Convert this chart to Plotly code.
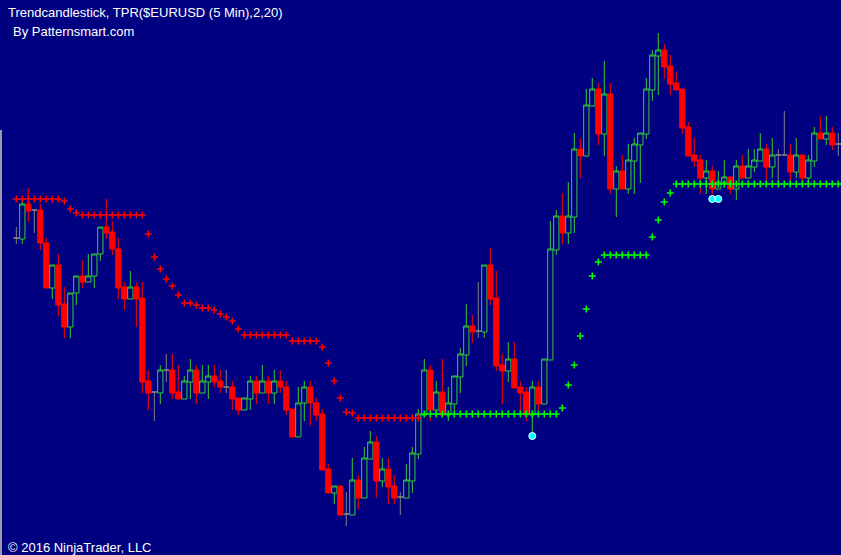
import plotly.graph_objects as go

# ---- data (EURUSD, 5 min bars) ----
bar_index = list(range(138))

open_ = [1.12762, 1.12761, 1.12796, 1.12790, 1.12790, 1.12757, 1.12712, 1.12735, 1.12696, 1.12673,
         1.12707, 1.12724, 1.12718, 1.12724, 1.12746, 1.12773, 1.12768, 1.12751, 1.12713, 1.12701,
         1.12713, 1.12702, 1.12619, 1.12608, 1.12607, 1.12630, 1.12630, 1.12608, 1.12601, 1.12618,
         1.12630, 1.12607, 1.12618, 1.12624, 1.12619, 1.12613, 1.12613, 1.12602, 1.12590, 1.12601,
         1.12619, 1.12607, 1.12619, 1.12607, 1.12619, 1.12613, 1.12591, 1.12563, 1.12597, 1.12613,
         1.12597, 1.12586, 1.12531, 1.12507, 1.12514, 1.12486, 1.12485, 1.12520, 1.12502, 1.12541,
         1.12558, 1.12519, 1.12531, 1.12514, 1.12503, 1.12502, 1.12519, 1.12546, 1.12585, 1.12630,
         1.12590, 1.12608, 1.12585, 1.12596, 1.12623, 1.12645, 1.12674, 1.12669, 1.12668, 1.12735,
         1.12702, 1.12635, 1.12629, 1.12641, 1.12613, 1.12608, 1.12585, 1.12613, 1.12596, 1.12640,
         1.12750, 1.12784, 1.12767, 1.12783, 1.12851, 1.12844, 1.12894, 1.12911, 1.12866, 1.12906,
         1.12811, 1.12829, 1.12811, 1.12839, 1.12855, 1.12866, 1.12910, 1.12944, 1.12950, 1.12934,
         1.12917, 1.12911, 1.12873, 1.12845, 1.12840, 1.12822, 1.12829, 1.12811, 1.12817, 1.12823,
         1.12811, 1.12834, 1.12822, 1.12833, 1.12839, 1.12851, 1.12833, 1.12845, 1.12845, 1.12845,
         1.12828, 1.12845, 1.12822, 1.12839, 1.12867, 1.12861, 1.12867, 1.12856]

high = [1.12773, 1.12801, 1.12812, 1.12790, 1.12796, 1.12762, 1.12735, 1.12746, 1.12713, 1.12707,
        1.12724, 1.12740, 1.12746, 1.12746, 1.12773, 1.12801, 1.12779, 1.12762, 1.12718, 1.12729,
        1.12718, 1.12718, 1.12630, 1.12608, 1.12635, 1.12646, 1.12646, 1.12635, 1.12624, 1.12641,
        1.12635, 1.12635, 1.12635, 1.12635, 1.12630, 1.12630, 1.12619, 1.12602, 1.12602, 1.12624,
        1.12624, 1.12635, 1.12624, 1.12630, 1.12630, 1.12619, 1.12591, 1.12613, 1.12619, 1.12619,
        1.12602, 1.12591, 1.12536, 1.12514, 1.12514, 1.12508, 1.12542, 1.12525, 1.12553, 1.12569,
        1.12564, 1.12542, 1.12542, 1.12525, 1.12508, 1.12536, 1.12553, 1.12591, 1.12641, 1.12635,
        1.12619, 1.12641, 1.12613, 1.12624, 1.12652, 1.12696, 1.12685, 1.12718, 1.12735, 1.12752,
        1.12729, 1.12646, 1.12658, 1.12658, 1.12619, 1.12613, 1.12619, 1.12619, 1.12641, 1.12779,
        1.12790, 1.12807, 1.12818, 1.12867, 1.12862, 1.12911, 1.12922, 1.12917, 1.12939, 1.12917,
        1.12834, 1.12845, 1.12856, 1.12862, 1.12867, 1.12922, 1.12950, 1.12967, 1.12956, 1.12945,
        1.12928, 1.12911, 1.12878, 1.12862, 1.12845, 1.12840, 1.12834, 1.12829, 1.12840, 1.12823,
        1.12840, 1.12845, 1.12851, 1.12851, 1.12867, 1.12856, 1.12862, 1.12851, 1.12889, 1.12856,
        1.12862, 1.12845, 1.12845, 1.12873, 1.12884, 1.12884, 1.12873, 1.12867]

low = [1.12756, 1.12756, 1.12778, 1.12767, 1.12750, 1.12712, 1.12701, 1.12684, 1.12662, 1.12662,
       1.12695, 1.12712, 1.12718, 1.12712, 1.12739, 1.12761, 1.12745, 1.12701, 1.12690, 1.12701,
       1.12673, 1.12607, 1.12590, 1.12579, 1.12596, 1.12618, 1.12601, 1.12601, 1.12601, 1.12601,
       1.12596, 1.12607, 1.12601, 1.12613, 1.12607, 1.12607, 1.12590, 1.12585, 1.12590, 1.12590,
       1.12596, 1.12607, 1.12596, 1.12596, 1.12607, 1.12585, 1.12563, 1.12563, 1.12579, 1.12574,
       1.12579, 1.12530, 1.12507, 1.12496, 1.12485, 1.12474, 1.12485, 1.12491, 1.12502, 1.12541,
       1.12502, 1.12513, 1.12496, 1.12496, 1.12485, 1.12502, 1.12507, 1.12541, 1.12585, 1.12579,
       1.12590, 1.12585, 1.12579, 1.12590, 1.12607, 1.12634, 1.12657, 1.12662, 1.12662, 1.12695,
       1.12629, 1.12596, 1.12618, 1.12612, 1.12585, 1.12579, 1.12568, 1.12590, 1.12596, 1.12640,
       1.12745, 1.12756, 1.12756, 1.12767, 1.12822, 1.12844, 1.12894, 1.12855, 1.12844, 1.12806,
       1.12783, 1.12811, 1.12806, 1.12806, 1.12817, 1.12861, 1.12899, 1.12905, 1.12921, 1.12905,
       1.12910, 1.12866, 1.12844, 1.12833, 1.12806, 1.12806, 1.12806, 1.12811, 1.12817, 1.12806,
       1.12800, 1.12822, 1.12822, 1.12828, 1.12839, 1.12817, 1.12822, 1.12817, 1.12845, 1.12817,
       1.12822, 1.12817, 1.12817, 1.12833, 1.12861, 1.12855, 1.12850, 1.12844]

close = [1.12762, 1.12796, 1.12789, 1.12790, 1.12757, 1.12712, 1.12735, 1.12695, 1.12673, 1.12707,
         1.12724, 1.12718, 1.12724, 1.12746, 1.12773, 1.12767, 1.12751, 1.12712, 1.12701, 1.12713,
         1.12701, 1.12618, 1.12607, 1.12608, 1.12630, 1.12630, 1.12607, 1.12601, 1.12619, 1.12630,
         1.12607, 1.12619, 1.12624, 1.12618, 1.12613, 1.12613, 1.12601, 1.12590, 1.12602, 1.12619,
         1.12607, 1.12619, 1.12607, 1.12619, 1.12613, 1.12590, 1.12563, 1.12597, 1.12613, 1.12597,
         1.12585, 1.12530, 1.12507, 1.12514, 1.12485, 1.12486, 1.12520, 1.12502, 1.12542, 1.12558,
         1.12519, 1.12531, 1.12513, 1.12502, 1.12503, 1.12520, 1.12547, 1.12586, 1.12630, 1.12590,
         1.12608, 1.12585, 1.12597, 1.12624, 1.12646, 1.12674, 1.12668, 1.12669, 1.12735, 1.12701,
         1.12634, 1.12629, 1.12641, 1.12612, 1.12607, 1.12585, 1.12613, 1.12596, 1.12641, 1.12751,
         1.12784, 1.12767, 1.12784, 1.12851, 1.12844, 1.12895, 1.12911, 1.12866, 1.12906, 1.12811,
         1.12829, 1.12811, 1.12840, 1.12856, 1.12867, 1.12911, 1.12945, 1.12950, 1.12933, 1.12916,
         1.12910, 1.12872, 1.12844, 1.12839, 1.12822, 1.12829, 1.12811, 1.12818, 1.12823, 1.12811,
         1.12834, 1.12822, 1.12834, 1.12840, 1.12851, 1.12833, 1.12845, 1.12845, 1.12845, 1.12828,
         1.12845, 1.12822, 1.12840, 1.12867, 1.12861, 1.12867, 1.12855, 1.12856]

# trailing stop: above price while trend is down (bars 0-67), below while up (bars 68-137)
stop_down = [1.12801, 1.12801, 1.12801, 1.12801, 1.12801, 1.12801, 1.12801, 1.12801, 1.12799, 1.12791,
             1.12787, 1.12785, 1.12785, 1.12785, 1.12785, 1.12785, 1.12785, 1.12785, 1.12785, 1.12785,
             1.12785, 1.12785, 1.12766, 1.12743, 1.12731, 1.12721, 1.12714, 1.12705, 1.12697, 1.12697,
             1.12695, 1.12692, 1.12692, 1.12690, 1.12686, 1.12683, 1.12679, 1.12671, 1.12665, 1.12665,
             1.12665, 1.12665, 1.12665, 1.12665, 1.12665, 1.12665, 1.12659, 1.12659, 1.12659, 1.12659,
             1.12659, 1.12653, 1.12637, 1.12619, 1.12602, 1.12588, 1.12587, 1.12582, 1.12582, 1.12582,
             1.12582, 1.12582, 1.12582, 1.12582, 1.12582, 1.12582, 1.12582, 1.12582]
stop_up = [1.12586, 1.12586, 1.12586, 1.12586, 1.12586, 1.12586, 1.12586, 1.12586, 1.12586, 1.12586,
           1.12586, 1.12586, 1.12586, 1.12586, 1.12586, 1.12586, 1.12586, 1.12586, 1.12586, 1.12586,
           1.12586, 1.12586, 1.12586, 1.12592, 1.12615, 1.12635, 1.12664, 1.12691, 1.12724, 1.12738,
           1.12745, 1.12745, 1.12745, 1.12745, 1.12745, 1.12745, 1.12745, 1.12745, 1.12763, 1.12780,
           1.12798, 1.12807, 1.12816, 1.12816, 1.12816, 1.12816, 1.12816, 1.12816, 1.12816, 1.12816,
           1.12816, 1.12816, 1.12816, 1.12816, 1.12816, 1.12816, 1.12816, 1.12816, 1.12816, 1.12816,
           1.12816, 1.12816, 1.12816, 1.12816, 1.12816, 1.12816, 1.12816, 1.12816, 1.12816, 1.12816]

signal_index = [86, 116, 117]
signal_price = [1.12564, 1.12801, 1.12801]

title_text = "Trendcandlestick, TPR($EURUSD (5 Min),2,20)"
sub_text = "By Patternsmart.com"
copy_text = "© 2016 NinjaTrader, LLC"

# ---- styles ----
NAVY = "#000080"
UP = "#32CD32"
DOWN = "#FF0000"
DOJI = "#808080"
FONT = "Liberation Sans, Arial, sans-serif"

is_doji = [o == c for o, c in zip(open_, close)]
idx_n = [i for i in bar_index if not is_doji[i]]
idx_d = [i for i in bar_index if is_doji[i]]

fig = go.Figure()

fig.add_trace(go.Candlestick(
    x=idx_n,
    open=[open_[i] for i in idx_n], high=[high[i] for i in idx_n],
    low=[low[i] for i in idx_n], close=[close[i] for i in idx_n],
    increasing=dict(line=dict(color=UP, width=1), fillcolor=NAVY),
    decreasing=dict(line=dict(color=DOWN, width=1), fillcolor=DOWN),
    whiskerwidth=0, hoverinfo="skip"))

fig.add_trace(go.Candlestick(
    x=idx_d,
    open=[open_[i] for i in idx_d], high=[high[i] for i in idx_d],
    low=[low[i] for i in idx_d], close=[close[i] for i in idx_d],
    increasing=dict(line=dict(color=DOJI, width=1), fillcolor=DOJI),
    decreasing=dict(line=dict(color=DOJI, width=1), fillcolor=DOJI),
    whiskerwidth=0, hoverinfo="skip"))

fig.add_trace(go.Scatter(
    x=bar_index[:len(stop_down)], y=stop_down, mode="markers",
    marker=dict(symbol="cross-thin", size=5, line=dict(color="#FF0000", width=1.6)),
    hoverinfo="skip"))
fig.add_trace(go.Scatter(
    x=bar_index[len(stop_down):], y=stop_up, mode="markers",
    marker=dict(symbol="cross-thin", size=5, line=dict(color="#00FF00", width=1.6)),
    hoverinfo="skip"))

fig.add_trace(go.Scatter(
    x=signal_index, y=signal_price, mode="markers",
    marker=dict(symbol="circle", size=7, color="#00FFFF", line=dict(color="#FFFFFF", width=1)),
    hoverinfo="skip"))

W, H = 841, 555
fig.update_layout(
    width=W, height=H,
    margin=dict(l=0, r=0, t=0, b=0),
    paper_bgcolor=NAVY, plot_bgcolor=NAVY,
    showlegend=False,
    boxgap=0.12, boxgroupgap=0.0, boxmode="overlay",
    xaxis=dict(range=[-2.72, 137.45], visible=False, rangeslider=dict(visible=False),
               showgrid=False, zeroline=False, fixedrange=True),
    yaxis=dict(range=[1.12445, 1.13000], visible=False, showgrid=False, zeroline=False,
               fixedrange=True),
    font=dict(family=FONT, color="white", size=13),
    annotations=[
        dict(text=title_text, x=6 / W, y=1 - 12.5 / H, xref="paper", yref="paper",
             xanchor="left", yanchor="middle", showarrow=False,
             font=dict(family=FONT, size=13, color="white")),
        dict(text=sub_text, x=11 / W, y=1 - 32 / H, xref="paper", yref="paper",
             xanchor="left", yanchor="middle", showarrow=False,
             font=dict(family=FONT, size=13, color="white")),
        dict(text=copy_text, x=6 / W, y=1 - 547.5 / H, xref="paper", yref="paper",
             xanchor="left", yanchor="middle", showarrow=False,
             font=dict(family=FONT, size=13, color="white")),
    ],
    shapes=[dict(type="line", xref="paper", yref="paper", x0=1 / W, x1=1 / W,
                 y0=0, y1=1 - 130 / H, line=dict(color="#9a9aaa", width=2))],
)

fig.write_html("out.html", config=dict(displayModeBar=False, staticPlot=True),
               post_script="document.body.style.margin='0px';document.body.style.background='#000080';")
